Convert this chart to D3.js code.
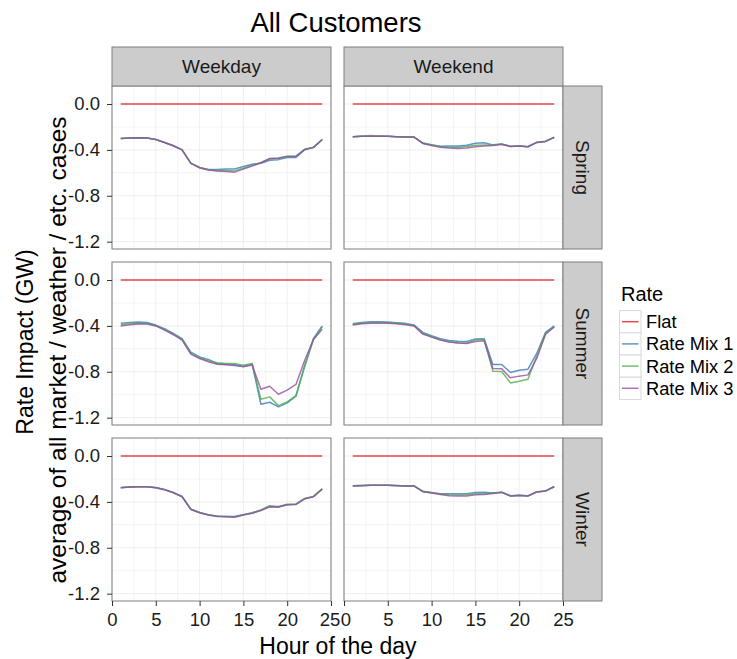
<!DOCTYPE html>
<html>
<head>
<meta charset="utf-8">
<script src="https://cdn.jsdelivr.net/npm/d3@7"></script>
<style>
  html, body { margin: 0; padding: 0; background: #ffffff; }
  svg { display: block; font-family: "Liberation Sans", Arial, Helvetica, sans-serif; }
</style>
</head>
<body>
<svg id="chart" width="737" height="659"></svg>
<script>
// ---- data -------------------------------------------------------------
const hours = [1, 2, 3, 4, 5, 6, 7, 8, 9, 10, 11, 12, 13, 14, 15, 16, 17, 18, 19, 20, 21, 22, 23, 24];
const seasons = ["Spring", "Summer", "Winter"];
const dayTypes = ["Weekday", "Weekend"];
const rates = ["Flat", "Rate Mix 1", "Rate Mix 2", "Rate Mix 3"];
const rateColors = ["#E41A1C", "#377EB8", "#4DAF4A", "#984EA3"];

const yTicks = [0, -0.4, -0.8, -1.2];
const yTickLabels = ["0.0", "-0.4", "-0.8", "-1.2"];
const yMinor = [-0.2, -0.6, -1.0];
const xTicks = [0, 5, 10, 15, 20, 25];
const xTickLabels = ["0", "5", "10", "15", "20", "25"];
const xMinor = [2.5, 7.5, 12.5, 17.5, 22.5];

const flat = [0, 0, 0, 0, 0, 0, 0, 0, 0, 0, 0, 0, 0, 0, 0, 0, 0, 0, 0, 0, 0, 0, 0, 0];

const springWeekdayMix1 = [-0.300, -0.297, -0.294, -0.297, -0.309, -0.335, -0.364, -0.400, -0.515, -0.553, -0.570, -0.572, -0.566, -0.566, -0.545, -0.525, -0.517, -0.490, -0.485, -0.466, -0.466, -0.398, -0.380, -0.309];
const springWeekdayMix2 = [-0.300, -0.297, -0.294, -0.297, -0.309, -0.335, -0.364, -0.400, -0.517, -0.555, -0.573, -0.580, -0.580, -0.583, -0.560, -0.532, -0.512, -0.474, -0.470, -0.455, -0.455, -0.395, -0.377, -0.309];
const springWeekdayMix3 = [-0.300, -0.297, -0.294, -0.297, -0.309, -0.335, -0.364, -0.400, -0.518, -0.556, -0.576, -0.585, -0.588, -0.594, -0.568, -0.541, -0.512, -0.477, -0.472, -0.457, -0.457, -0.396, -0.378, -0.309];

const springWeekendMix1 = [-0.285, -0.282, -0.280, -0.280, -0.282, -0.285, -0.288, -0.288, -0.340, -0.356, -0.368, -0.366, -0.366, -0.360, -0.343, -0.338, -0.358, -0.350, -0.370, -0.367, -0.373, -0.335, -0.326, -0.291];
const springWeekendMix2 = [-0.285, -0.280, -0.274, -0.278, -0.282, -0.285, -0.288, -0.288, -0.342, -0.358, -0.373, -0.376, -0.376, -0.370, -0.360, -0.358, -0.355, -0.348, -0.368, -0.366, -0.372, -0.334, -0.325, -0.290];
const springWeekendMix3 = [-0.285, -0.282, -0.280, -0.280, -0.282, -0.285, -0.288, -0.288, -0.344, -0.361, -0.378, -0.384, -0.387, -0.384, -0.373, -0.367, -0.361, -0.350, -0.370, -0.367, -0.373, -0.335, -0.326, -0.291];

const summerWeekdayMix1 = [-0.378, -0.370, -0.367, -0.370, -0.393, -0.425, -0.466, -0.512, -0.629, -0.670, -0.693, -0.728, -0.734, -0.739, -0.751, -0.734, -1.083, -1.066, -1.106, -1.071, -1.013, -0.742, -0.510, -0.400];
const summerWeekdayMix2 = [-0.390, -0.381, -0.378, -0.380, -0.398, -0.431, -0.471, -0.518, -0.640, -0.678, -0.705, -0.722, -0.728, -0.728, -0.742, -0.728, -1.040, -1.019, -1.095, -1.063, -1.007, -0.757, -0.518, -0.408];
const summerWeekdayMix3 = [-0.400, -0.390, -0.384, -0.384, -0.400, -0.437, -0.477, -0.524, -0.646, -0.684, -0.713, -0.734, -0.739, -0.745, -0.757, -0.742, -0.952, -0.926, -0.996, -0.960, -0.910, -0.699, -0.518, -0.430];

const summerWeekendMix1 = [-0.381, -0.370, -0.364, -0.364, -0.367, -0.373, -0.378, -0.393, -0.457, -0.486, -0.512, -0.527, -0.533, -0.536, -0.515, -0.512, -0.737, -0.737, -0.806, -0.786, -0.777, -0.640, -0.457, -0.400];
const summerWeekendMix2 = [-0.387, -0.376, -0.370, -0.370, -0.373, -0.376, -0.384, -0.398, -0.466, -0.494, -0.521, -0.538, -0.547, -0.550, -0.524, -0.518, -0.795, -0.797, -0.897, -0.882, -0.865, -0.664, -0.466, -0.408];
const summerWeekendMix3 = [-0.393, -0.381, -0.376, -0.376, -0.378, -0.381, -0.390, -0.400, -0.472, -0.498, -0.524, -0.541, -0.550, -0.553, -0.536, -0.530, -0.771, -0.774, -0.853, -0.838, -0.827, -0.684, -0.475, -0.408];

const winterWeekdayMix1 = [-0.275, -0.270, -0.267, -0.267, -0.275, -0.292, -0.318, -0.353, -0.463, -0.492, -0.512, -0.524, -0.527, -0.528, -0.512, -0.495, -0.472, -0.440, -0.445, -0.424, -0.421, -0.372, -0.354, -0.287];
const winterWeekdayMix2 = [-0.276, -0.270, -0.267, -0.267, -0.276, -0.293, -0.319, -0.354, -0.464, -0.493, -0.513, -0.525, -0.528, -0.530, -0.513, -0.497, -0.470, -0.433, -0.440, -0.420, -0.418, -0.370, -0.352, -0.286];
const winterWeekdayMix3 = [-0.277, -0.271, -0.268, -0.268, -0.277, -0.294, -0.320, -0.355, -0.466, -0.495, -0.515, -0.527, -0.530, -0.533, -0.515, -0.500, -0.475, -0.443, -0.445, -0.425, -0.422, -0.373, -0.355, -0.288];

const winterWeekendMix1 = [-0.260, -0.257, -0.255, -0.255, -0.255, -0.258, -0.261, -0.261, -0.308, -0.318, -0.328, -0.330, -0.330, -0.328, -0.318, -0.315, -0.322, -0.316, -0.348, -0.343, -0.348, -0.313, -0.305, -0.267];
const winterWeekendMix2 = [-0.260, -0.257, -0.255, -0.255, -0.255, -0.258, -0.261, -0.261, -0.309, -0.320, -0.332, -0.338, -0.340, -0.338, -0.328, -0.328, -0.322, -0.315, -0.347, -0.342, -0.347, -0.312, -0.304, -0.266];
const winterWeekendMix3 = [-0.262, -0.259, -0.256, -0.256, -0.256, -0.259, -0.262, -0.262, -0.311, -0.323, -0.335, -0.346, -0.349, -0.349, -0.338, -0.335, -0.326, -0.317, -0.349, -0.344, -0.349, -0.314, -0.306, -0.268];

// series per facet, in the order of `rates`
const facetSeries = {
  "Spring|Weekday": [flat, springWeekdayMix1, springWeekdayMix2, springWeekdayMix3],
  "Spring|Weekend": [flat, springWeekendMix1, springWeekendMix2, springWeekendMix3],
  "Summer|Weekday": [flat, summerWeekdayMix1, summerWeekdayMix2, summerWeekdayMix3],
  "Summer|Weekend": [flat, summerWeekendMix1, summerWeekendMix2, summerWeekendMix3],
  "Winter|Weekday": [flat, winterWeekdayMix1, winterWeekdayMix2, winterWeekdayMix3],
  "Winter|Weekend": [flat, winterWeekendMix1, winterWeekendMix2, winterWeekendMix3]
};

// ---- layout -----------------------------------------------------------
const colLeft = [112, 344];
const rowTop = [86, 262, 438];
const panelW = 219;
const panelH = 163;
const stripSize = 39;

const svg = d3.select("#chart");
svg.append("rect").attr("width", 737).attr("height", 659).attr("fill", "#ffffff");

const x = d3.scaleLinear().domain([0, 25]).range([0, panelW]);
const y = d3.scaleLinear().domain([-1.264, 0.157]).range([panelH, 0]);

const line = d3.line()
  .x(d => x(d[0]))
  .y(d => y(d[1]));

const textColor = "#1a1a1a";
const frameColor = "#7f7f7f";
const lineOpacity = 0.8;

seasons.forEach((season, r) => {
  dayTypes.forEach((day, c) => {
    const g = svg.append("g")
      .attr("transform", `translate(${colLeft[c]},${rowTop[r]})`);

    g.append("rect")
      .attr("width", panelW).attr("height", panelH)
      .attr("fill", "#ffffff");

    // minor grid
    g.selectAll(".ymin").data(yMinor).join("line")
      .attr("x1", 0).attr("x2", panelW)
      .attr("y1", d => y(d)).attr("y2", d => y(d))
      .attr("stroke", "#f4f4f4").attr("stroke-width", 1);
    g.selectAll(".xmin").data(xMinor).join("line")
      .attr("y1", 0).attr("y2", panelH)
      .attr("x1", d => x(d)).attr("x2", d => x(d))
      .attr("stroke", "#f4f4f4").attr("stroke-width", 1);
    // major grid
    g.selectAll(".ymaj").data(yTicks).join("line")
      .attr("x1", 0).attr("x2", panelW)
      .attr("y1", d => y(d)).attr("y2", d => y(d))
      .attr("stroke", "#ebebeb").attr("stroke-width", 0.8);
    g.selectAll(".xmaj").data(xTicks).join("line")
      .attr("y1", 0).attr("y2", panelH)
      .attr("x1", d => x(d)).attr("x2", d => x(d))
      .attr("stroke", "#ebebeb").attr("stroke-width", 0.8);

    // series lines
    const series = facetSeries[season + "|" + day];
    series.forEach((vals, i) => {
      g.append("path")
        .datum(hours.map((h, k) => [h, vals[k]]))
        .attr("d", line)
        .attr("fill", "none")
        .attr("stroke", rateColors[i])
        .attr("stroke-opacity", lineOpacity)
        .attr("stroke-width", 1.5)
        .attr("stroke-linejoin", "round");
    });

    // panel frame
    g.append("rect")
      .attr("width", panelW).attr("height", panelH)
      .attr("fill", "none").attr("stroke", frameColor).attr("stroke-width", 1);

    // y axis on the left column
    if (c === 0) {
      const ax = g.append("g").call(
        d3.axisLeft(y).tickValues(yTicks)
          .tickFormat((d, i) => yTickLabels[i])
          .tickSize(5).tickPadding(7)
      );
      ax.select(".domain").remove();
      ax.selectAll(".tick line").attr("stroke", "#333333");
      ax.selectAll(".tick text")
        .attr("fill", textColor)
        .style("font-size", "18.5px")
        .style("font-family", "'Liberation Sans', Arial, sans-serif");
    }

    // x axis on the bottom row
    if (r === seasons.length - 1) {
      const ax = g.append("g").attr("transform", `translate(0,${panelH})`).call(
        d3.axisBottom(x).tickValues(xTicks)
          .tickFormat((d, i) => xTickLabels[i])
          .tickSize(5).tickPadding(7)
      );
      ax.select(".domain").remove();
      ax.selectAll(".tick line").attr("stroke", "#333333");
      ax.selectAll(".tick text")
        .attr("fill", textColor)
        .style("font-size", "18.5px")
        .style("font-family", "'Liberation Sans', Arial, sans-serif");
      // the two columns meet at 25 | 0: keep those labels from colliding
      ax.selectAll(".tick text")
        .attr("dx", (d, i) => {
          if (c === 0 && i === xTicks.length - 1) return -1.5;
          if (c === 1 && i === 0) return 1.5;
          return 0;
        });
    }

    // column strips on top row
    if (r === 0) {
      svg.append("rect")
        .attr("x", colLeft[c]).attr("y", rowTop[0] - stripSize)
        .attr("width", panelW).attr("height", stripSize)
        .attr("fill", "#cccccc").attr("stroke", frameColor).attr("stroke-width", 1);
      svg.append("text")
        .attr("x", colLeft[c] + panelW / 2).attr("y", rowTop[0] - stripSize / 2)
        .attr("dy", "0.36em")
        .attr("text-anchor", "middle")
        .attr("fill", textColor)
        .style("font-size", "19px")
        .text(day);
    }

    // row strips on right column
    if (c === dayTypes.length - 1) {
      const sx = colLeft[c] + panelW;
      svg.append("rect")
        .attr("x", sx).attr("y", rowTop[r])
        .attr("width", stripSize).attr("height", panelH)
        .attr("fill", "#cccccc").attr("stroke", frameColor).attr("stroke-width", 1);
      svg.append("text")
        .attr("transform", `translate(${sx + stripSize / 2},${rowTop[r] + panelH / 2}) rotate(90)`)
        .attr("dy", "0.36em")
        .attr("text-anchor", "middle")
        .attr("fill", textColor)
        .style("font-size", "19px")
        .text(season);
    }
  });
});

// ---- titles -----------------------------------------------------------
svg.append("text")
  .attr("x", 336).attr("y", 31.5)
  .attr("text-anchor", "middle")
  .attr("fill", "#000000")
  .style("font-size", "27.5px")
  .text("All Customers");

svg.append("text")
  .attr("x", 338).attr("y", 654)
  .attr("text-anchor", "middle")
  .attr("fill", "#000000")
  .style("font-size", "23px")
  .text("Hour of the day");

svg.append("text")
  .attr("transform", "translate(33,342) rotate(-90)")
  .attr("text-anchor", "middle")
  .attr("fill", "#000000")
  .style("font-size", "23px")
  .text("Rate Impact (GW)");
svg.append("text")
  .attr("transform", "translate(66,350) rotate(-90)")
  .attr("text-anchor", "middle")
  .attr("fill", "#000000")
  .style("font-size", "24.5px")
  .text("average of all market / weather / etc. cases");

// ---- legend -----------------------------------------------------------
const legend = svg.append("g").attr("transform", "translate(619.5,0)");
legend.append("text")
  .attr("x", 1.5).attr("y", 301)
  .attr("fill", "#000000")
  .style("font-size", "20px")
  .text("Rate");

const keySize = 22.2;
const keyTop = 310.6;
rates.forEach((name, i) => {
  const ky = keyTop + i * keySize;
  legend.append("rect")
    .attr("x", 0).attr("y", ky)
    .attr("width", 21.5).attr("height", keySize)
    .attr("fill", "#ffffff").attr("stroke", "#d9d9d9").attr("stroke-width", 1);
  legend.append("line")
    .attr("x1", 2.5).attr("x2", 19)
    .attr("y1", ky + keySize / 2).attr("y2", ky + keySize / 2)
    .attr("stroke", rateColors[i]).attr("stroke-opacity", lineOpacity).attr("stroke-width", 1.5);
  legend.append("text")
    .attr("x", 26.5).attr("y", ky + keySize / 2 + 6.5)
    .attr("fill", "#000000")
    .style("font-size", "18.3px")
    .text(name);
});
</script>
</body>
</html>
